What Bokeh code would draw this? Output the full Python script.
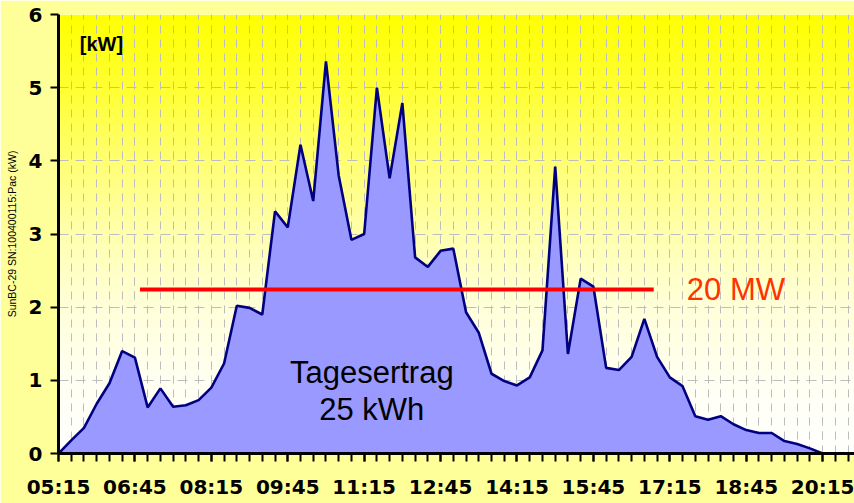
import numpy as np
from bokeh.plotting import figure
from bokeh.models import FixedTicker, Range1d, ColumnDataSource
from bokeh.core.properties import value
from bokeh.embed import file_html
from bokeh.resources import INLINE

# ---------------- data ----------------
start_min = 5 * 60 + 15
step_min = 15
times = [f"{(start_min + step_min * i) // 60:02d}:{(start_min + step_min * i) % 60:02d}" for i in range(61)]

power_kw = [
    0.00, 0.18, 0.35, 0.68, 0.96, 1.40, 1.31, 0.63, 0.89, 0.64, 0.66, 0.73,
    0.90, 1.23, 2.02, 1.99, 1.90, 3.31, 3.09, 4.22, 3.45, 5.36, 3.80, 2.92,
    3.00, 5.00, 3.76, 4.79, 2.68, 2.55, 2.77, 2.80, 1.93, 1.65, 1.09, 0.99,
    0.93, 1.04, 1.41, 3.92, 1.36, 2.39, 2.28, 1.17, 1.14, 1.32, 1.84, 1.32,
    1.04, 0.92, 0.51, 0.46, 0.51, 0.40, 0.32, 0.28, 0.28, 0.17, 0.13, 0.07,
    0.00,
]

tick_labels = ["05:15", "06:45", "08:15", "09:45", "11:15", "12:45",
               "14:15", "15:45", "17:15", "18:45", "20:15"]
y_ticks = [0, 1, 2, 3, 4, 5, 6]

ref_level_kw = [2.24]
ref_from = ["06:51"]
ref_to = ["16:56"]
ref_label = "20 MW"
unit_label = "[kW]"
yield_label = ["Tagesertrag", "25 kWh"]
axis_title = "SunBC-29 SN:100400115:Pac (kW)"


def to_min(s):
    h, m = s.split(":")
    return int(h) * 60 + int(m)


x = [to_min(t) for t in times]
src = ColumnDataSource(dict(x=x, y=power_kw, y0=[0] * len(x)))

x_start = to_min(times[0])
x_end = x_start + 62.5 * step_min

OUTER = "#FFFF99"

p = figure(width=854, height=503, output_backend="svg", toolbar_location=None,
           x_range=Range1d(x_start, x_end), y_range=Range1d(0, 6),
           min_border_left=58, min_border_right=0, min_border_top=14,
           min_border_bottom=50)
p.background_fill_color = "white"
p.border_fill_color = OUTER
p.outline_line_color = None

# background gradient (yellow top -> white bottom)
stops_v = [0, 1, 2, 3, 4, 5, 6]
stops_b = [255, 242, 218, 175, 115, 50, 0]
rows = 300
vv = np.linspace(0, 6, rows)
b = np.interp(vv, stops_v, stops_b).astype(np.uint32)
img = np.zeros((rows, 2), dtype=np.uint32)
view = img.view(dtype=np.uint8).reshape((rows, 2, 4))
view[:, :, 0] = 255
view[:, :, 1] = 255
view[:, :, 2] = b[:, None]
view[:, :, 3] = 255
p.image_rgba(image=[img], x=x_start, y=0, dw=x_end - x_start, dh=6, level="image")

# grid
minor_x = list(range(x_start, int(x_end) + 1, step_min))
p.xgrid.ticker = FixedTicker(ticks=[to_min(t) for t in tick_labels], minor_ticks=minor_x)
p.xgrid.grid_line_color = "#BDBDBD"
p.xgrid.grid_line_dash = "8 6"
p.xgrid.grid_line_width = 1
p.xgrid.minor_grid_line_color = "#BDBDBD"
p.xgrid.minor_grid_line_dash = "8 6"
p.xgrid.minor_grid_line_width = 1
p.ygrid.ticker = FixedTicker(ticks=y_ticks[1:-1])
p.ygrid.grid_line_color = "#BDBDBD"
p.ygrid.grid_line_dash = "10 7"
p.ygrid.grid_line_width = 1

# area + line
p.varea(x="x", y1="y0", y2="y", source=src, fill_color="#9999FF", fill_alpha=1)
p.line(x="x", y="y", source=src, line_color="#000080", line_width=2.6)

# reference line
p.segment(x0=[to_min(t) for t in ref_from], x1=[to_min(t) for t in ref_to],
          y0=ref_level_kw, y1=ref_level_kw, line_color="#FF0000", line_width=4)
p.text(x=[to_min("17:35")], y=ref_level_kw, text=[ref_label],
       text_font=value("Liberation Sans"), text_font_size="31px",
       text_color="#FF3300", text_align="left", text_baseline="middle")

# annotations
p.text(x=[to_min("11:24")] * 2, y=[1.11, 0.60], text=yield_label,
       text_font=value("Liberation Sans"), text_font_size="31px",
       text_color="black", text_align="center", text_baseline="middle")
p.text(x=[to_min("05:40")], y=[5.59], text=[unit_label],
       text_font=value("Liberation Sans"), text_font_size="20px", text_font_style="bold",
       text_color="black", text_align="left", text_baseline="middle")

# axes
xa = p.xaxis[0]
xa.ticker = FixedTicker(ticks=[to_min(t) for t in tick_labels], minor_ticks=minor_x)
xa.major_label_overrides = {to_min(t): t for t in tick_labels}
xa.axis_line_color = "black"
xa.axis_line_width = 3
xa.major_tick_line_color = "black"
xa.major_tick_line_width = 2
xa.major_tick_out = 8
xa.major_tick_in = 0
xa.minor_tick_line_color = "black"
xa.minor_tick_line_width = 2
xa.minor_tick_out = 8
xa.minor_tick_in = 0
xa.major_label_text_font = "DejaVu Sans"
xa.major_label_text_font_style = "bold"
xa.major_label_text_font_size = "20px"
xa.major_label_text_color = "black"
xa.major_label_standoff = 13

ya = p.yaxis[0]
ya.ticker = FixedTicker(ticks=y_ticks, minor_ticks=[])
ya.axis_line_color = "black"
ya.axis_line_width = 3
ya.major_tick_line_color = "black"
ya.major_tick_line_width = 2
ya.major_tick_out = 8
ya.major_tick_in = 0
ya.minor_tick_line_color = None
ya.major_label_text_font = "DejaVu Sans"
ya.major_label_text_font_style = "bold"
ya.major_label_text_font_size = "20px"
ya.major_label_text_color = "black"
ya.major_label_standoff = 8
ya.axis_label = axis_title
ya.axis_label_text_font = "Liberation Sans"
ya.axis_label_text_font_style = "normal"
ya.axis_label_text_font_size = "10.5px"
ya.axis_label_text_color = "black"
ya.axis_label_standoff = 8

html = file_html(p, INLINE)
html = html.replace("<body>", '<body style="background-color:%s">' % OUTER, 1)
open("out.html", "w").write(html)
